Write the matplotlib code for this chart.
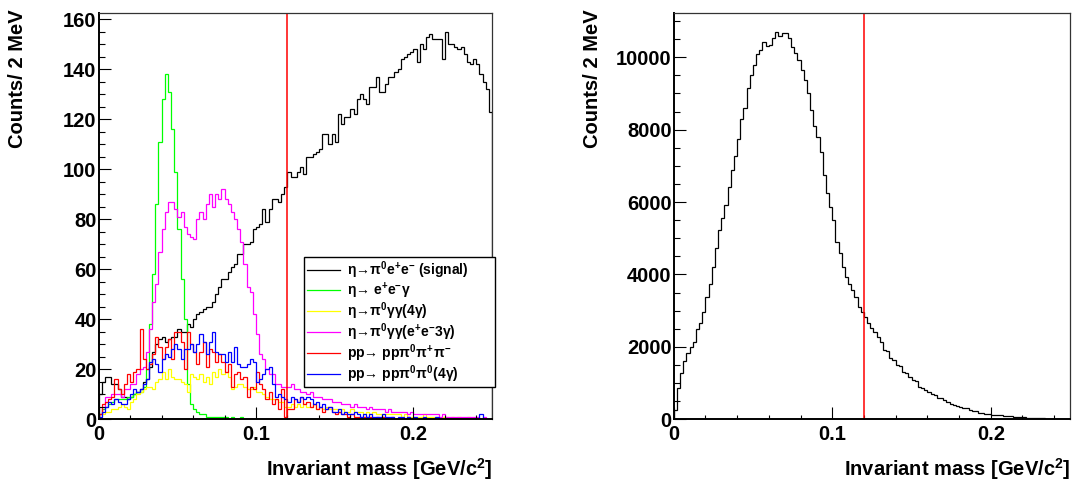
#!/usr/bin/env python3
"""
Invariant mass spectra: signal vs. background channels (left) and full sample (right)
"""

import numpy as np
import matplotlib
matplotlib.use('Agg')
import matplotlib.pyplot as plt
from matplotlib.ticker import MultipleLocator

# binning: 2 MeV bins from 0 to 0.25 GeV
x_min, x_max, bin_width = 0.0, 0.25, 0.002
cut_value = 0.12

# left panel, counts per bin
signal = [
    10, 15, 17, 17, 14, 14, 12, 9, 9, 8,
    9, 10, 11, 12, 15, 16, 21, 27, 30, 32,
    33, 31, 32, 33, 33, 36, 35, 35, 38, 37,
    40, 42, 43, 44, 45, 45, 47, 50, 53, 56,
    56, 59, 61, 62, 66, 66, 70, 70, 71, 76,
    77, 78, 84, 79, 84, 88, 88, 87, 90, 93,
    99, 97, 97, 99, 101, 98, 105, 105, 106, 107,
    108, 114, 114, 110, 114, 111, 122, 118, 121, 121,
    124, 122, 128, 130, 128, 126, 133, 133, 137, 131,
    131, 134, 137, 137, 139, 140, 144, 145, 146, 147,
    148, 143, 150, 148, 153, 154, 152, 152, 152, 144,
    155, 150, 150, 149, 148, 149, 146, 143, 142, 144,
    142, 138, 135, 132, 123,
]
eta_eeg = [
    2, 4, 5, 6, 7, 8, 8, 8, 8, 9,
    9, 10, 11, 11, 13, 20, 38, 58, 86, 111,
    128, 138, 131, 116, 99, 76, 56, 40, 14, 6,
    4, 3, 2, 2, 1, 1, 1, 1, 1, 1,
    1, 0, 1, 0, 0, 1, 0, 0, 0, 0,
    0, 0, 0, 0, 0, 0, 0, 0, 0, 0,
    0, 0, 0, 0, 0, 0, 0, 0, 0, 0,
    0, 0, 0, 0, 0, 0, 0, 0, 0, 0,
    0, 0, 0, 0, 0, 0, 0, 0, 0, 0,
    0, 0, 0, 0, 0, 0, 0, 0, 0, 0,
    0, 0, 0, 0, 0, 0, 0, 0, 0, 0,
    0, 0, 0, 0, 0, 0, 0, 0, 0, 0,
    0, 0, 0, 0, 0,
]
eta_gg_4g = [
    1, 2, 3, 3, 4, 4, 5, 6, 5, 4,
    7, 8, 10, 11, 12, 13, 13, 12, 15, 16,
    19, 16, 20, 17, 16, 16, 15, 14, 11, 18,
    17, 16, 18, 15, 17, 14, 19, 17, 20, 18,
    19, 17, 12, 13, 14, 14, 13, 12, 12, 13,
    11, 11, 10, 9, 8, 8, 8, 7, 7, 5,
    5, 6, 5, 6, 5, 6, 5, 5, 6, 4,
    5, 4, 5, 4, 4, 4, 3, 4, 3, 3,
    4, 3, 3, 3, 2, 3, 2, 3, 2, 2,
    2, 2, 2, 2, 2, 2, 1, 2, 1, 1,
    1, 1, 1, 2, 1, 1, 1, 1, 0, 1,
    1, 0, 1, 0, 1, 0, 0, 1, 0, 0,
    0, 0, 0, 0, 0,
]
eta_gg_ee3g = [
    2, 5, 9, 9, 10, 10, 10, 9, 12, 12,
    14, 14, 18, 20, 21, 27, 36, 47, 54, 67,
    76, 83, 87, 87, 84, 81, 83, 77, 74, 73,
    72, 80, 83, 80, 86, 90, 85, 90, 88, 92,
    88, 86, 83, 80, 76, 71, 62, 53, 51, 42,
    34, 26, 24, 20, 18, 18, 14, 14, 13, 13,
    13, 14, 12, 12, 11, 11, 10, 11, 9, 9,
    9, 8, 8, 8, 7, 7, 7, 6, 6, 6,
    5, 6, 5, 5, 5, 4, 5, 4, 4, 4,
    4, 3, 4, 3, 3, 3, 3, 3, 2, 3,
    2, 2, 2, 2, 2, 2, 2, 2, 1, 2,
    1, 1, 1, 1, 1, 1, 1, 1, 1, 1,
    1, 0, 1, 0, 0,
]
pp_3pi = [
    2, 6, 7, 8, 9, 16, 12, 10, 14, 18,
    15, 19, 20, 36, 24, 20, 22, 26, 33, 29,
    24, 29, 32, 24, 35, 35, 31, 20, 35, 30,
    27, 22, 27, 31, 21, 28, 27, 23, 26, 23,
    19, 22, 13, 18, 19, 16, 17, 9, 13, 12,
    19, 14, 12, 8, 11, 6, 8, 4, 12, 1,
    4, 4, 8, 7, 9, 6, 7, 5, 6, 4,
    5, 3, 4, 5, 3, 2, 3, 2, 2, 1,
    2, 1, 1, 1, 1, 1, 1, 0, 1, 0,
    1, 0, 0, 1, 0, 0, 0, 0, 1, 0,
    0, 0, 0, 0, 0, 0, 0, 0, 0, 0,
    0, 0, 0, 0, 0, 0, 0, 0, 0, 0,
    0, 0, 0, 0, 0,
]
pp_2pi0 = [
    1, 3, 5, 7, 6, 8, 7, 6, 6, 8,
    10, 12, 11, 12, 14, 16, 23, 24, 22, 19,
    24, 26, 25, 28, 30, 28, 24, 28, 28, 30,
    27, 30, 34, 31, 26, 31, 35, 27, 26, 26,
    23, 27, 23, 29, 22, 21, 21, 22, 24, 23,
    15, 16, 18, 20, 21, 14, 9, 10, 9, 8,
    7, 9, 8, 7, 9, 8, 9, 8, 6, 7,
    5, 6, 4, 5, 3, 3, 4, 2, 3, 2,
    2, 3, 2, 1, 2, 1, 2, 1, 1, 1,
    2, 1, 1, 1, 0, 1, 1, 0, 1, 0,
    1, 0, 0, 1, 0, 0, 0, 1, 0, 0,
    0, 0, 0, 0, 0, 0, 0, 0, 0, 0,
    0, 2, 0, 0, 0,
]

# right panel, counts per bin
all_events = [
    260, 860, 1270, 1620, 1820, 2010, 2140, 2490, 2650, 2970,
    3390, 3740, 4220, 4720, 5230, 5550, 5920, 6430, 6900, 7270,
    7730, 8290, 8590, 9150, 9510, 9790, 10080, 10200, 10420, 10310,
    10330, 10520, 10700, 10590, 10680, 10660, 10520, 10280, 10110, 9920,
    9650, 9370, 9000, 8540, 8100, 7810, 7390, 6750, 6240, 5870,
    5500, 4900, 4580, 4210, 3940, 3750, 3570, 3380, 3110, 2970,
    2830, 2650, 2510, 2420, 2280, 2140, 1910, 1900, 1680, 1640,
    1500, 1480, 1320, 1270, 1180, 1090, 1050, 900, 860, 800,
    760, 700, 670, 600, 580, 520, 490, 430, 395, 370,
    350, 320, 300, 260, 240, 230, 180, 165, 150, 140,
    130, 120, 115, 110, 95, 90, 85, 75, 70, 60,
    55, 45, 40, 35, 30, 28, 25, 20, 18, 15,
    12, 10, 8, 6, 5,
]

left_series = [
    (signal, 'black', r'$\eta$→$\pi^{0}$e$^{+}$e$^{-}$ (signal)'),
    (eta_eeg, '#00ff00', r'$\eta$→ e$^{+}$e$^{-}\gamma$'),
    (eta_gg_4g, '#ffff00', r'$\eta$→$\pi^{0}\gamma\gamma$(4$\gamma$)'),
    (eta_gg_ee3g, '#ff00ff', r'$\eta$→$\pi^{0}\gamma\gamma$(e$^{+}$e$^{-}$3$\gamma$)'),
    (pp_3pi, '#ff0000', r'pp→ pp$\pi^{0}\pi^{+}\pi^{-}$'),
    (pp_2pi0, '#0000ff', r'pp→ pp$\pi^{0}\pi^{0}$(4$\gamma$)'),
]

plt.rcParams['font.family'] = ['Liberation Sans', 'DejaVu Sans']
plt.rcParams['font.weight'] = 'bold'
plt.rcParams['mathtext.fontset'] = 'custom'
plt.rcParams['mathtext.rm'] = 'Liberation Sans:bold'
plt.rcParams['mathtext.bf'] = 'Liberation Sans:bold'
plt.rcParams['mathtext.it'] = 'Liberation Sans'
plt.rcParams['mathtext.sf'] = 'Liberation Sans:bold'

LABEL_SIZE = 14.5


def style_axes(ax, ymax, ymajor, yminor):
    """ROOT-like frame: inward ticks on left/bottom only"""
    ax.set_xlim(x_min, x_max)
    ax.set_ylim(0, ymax)
    ax.xaxis.set_major_locator(MultipleLocator(0.1))
    ax.xaxis.set_minor_locator(MultipleLocator(0.02))
    ax.yaxis.set_major_locator(MultipleLocator(ymajor))
    ax.yaxis.set_minor_locator(MultipleLocator(yminor))
    ax.xaxis.set_major_formatter(lambda v, p: '0' if abs(v) < 1e-9 else f'{v:g}')
    ax.tick_params(axis='both', which='both', direction='in', top=False, right=False,
                   width=0.8, labelsize=LABEL_SIZE)
    ax.tick_params(axis='x', which='major', length=9, pad=4)
    ax.tick_params(axis='x', which='minor', length=3.2)
    ax.tick_params(axis='y', which='major', length=8.5, pad=1.5)
    ax.tick_params(axis='y', which='minor', length=4.5)
    for side in ('left', 'bottom'):
        ax.spines[side].set_linewidth(1.4)
    for side in ('top', 'right'):
        ax.spines[side].set_linewidth(0.9)
        ax.spines[side].set_color('#333333')
    ax.set_xlabel(r'Invariant mass [GeV/c$^{2}$]', fontsize=LABEL_SIZE,
                  fontweight='bold', loc='right', labelpad=9)
    ax.set_ylabel('Counts/ 2 MeV', fontsize=LABEL_SIZE, fontweight='bold', loc='top')
    ax.yaxis.set_label_coords(-0.182, 1.01)


def main():
    edges = np.arange(len(signal) + 1) * bin_width

    fig = plt.figure(figsize=(10.75, 4.84), dpi=100)
    ax_left = fig.add_axes([0.0918, 0.1337, 0.3659, 0.8388])
    ax_right = fig.add_axes([0.6267, 0.1337, 0.3687, 0.8388])

    # left: signal and background channels
    for values, color, label in left_series:
        ax_left.stairs(values, edges, color=color, linewidth=0.9, label=label)
    ax_left.axvline(cut_value, color='red', linewidth=1.1)
    style_axes(ax_left, 162.4, 20, 5)

    leg = ax_left.legend(loc='upper left', bbox_to_anchor=(0.522, 0.109, 0.486, 0.291),
                         mode='expand', frameon=True, fancybox=False,
                         edgecolor='black', framealpha=1, borderaxespad=0,
                         borderpad=0.2, labelspacing=-0.05, handlelength=2.4,
                         handletextpad=0.5, prop={'weight': 'bold', 'size': 10})
    leg.get_frame().set_linewidth(1.0)

    # right: full sample
    ax_right.stairs(all_events, edges, color='black', linewidth=0.9)
    ax_right.axvline(cut_value, color='red', linewidth=1.1)
    style_axes(ax_right, 11215, 2000, 500)

    fig.savefig('out.png', dpi=100)


if __name__ == '__main__':
    main()
